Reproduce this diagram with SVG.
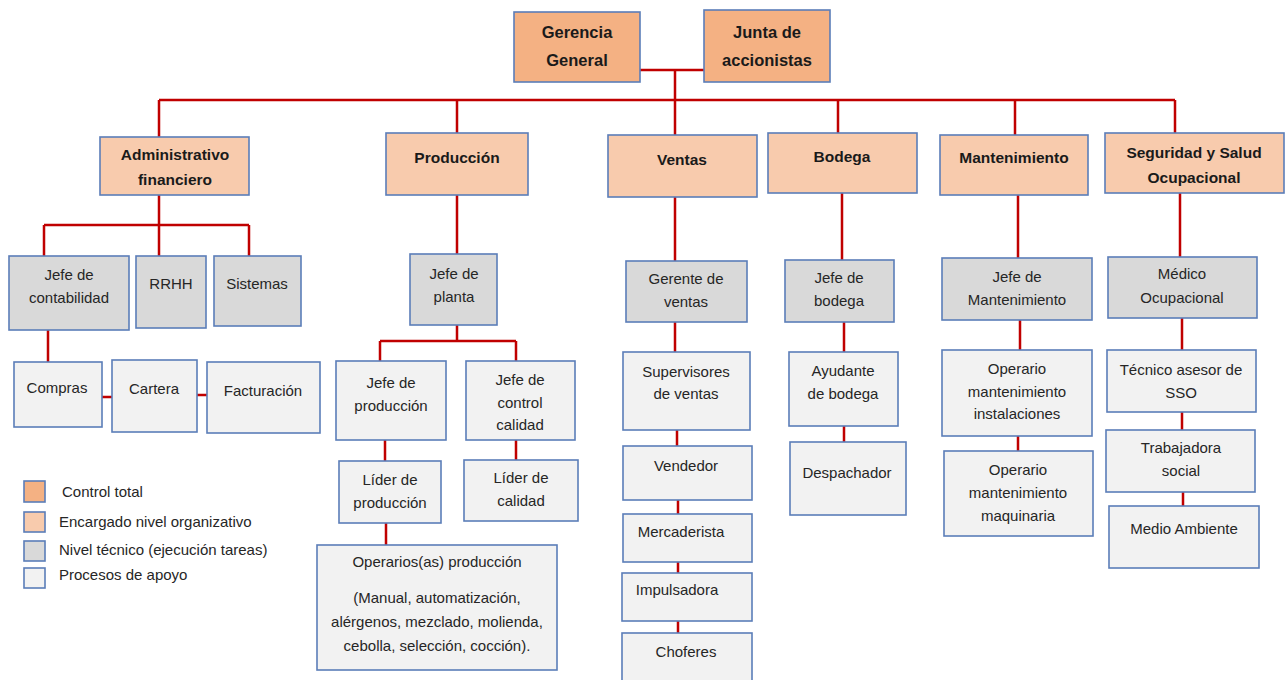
<svg xmlns="http://www.w3.org/2000/svg" width="1287" height="680" viewBox="0 0 1287 680">
<style>
.b{stroke:#5B7DB8;stroke-width:1.6}
.o{fill:#F4B183}
.p{fill:#F8CBAD}
.g{fill:#D9D9D9}
.w{fill:#F2F2F2}
text{font-family:"Liberation Sans",Arial,sans-serif;font-size:15px;fill:#262626;text-anchor:middle}
.t{font-weight:bold;font-size:15.5px;fill:#1a1a1a}
.tt{font-weight:bold;font-size:16.5px;fill:#1a1a1a}
.l{text-anchor:start}
#conn path{stroke:#C00000;stroke-width:2.5;fill:none}
</style>
<rect width="1287" height="680" fill="#fff"/>
<g id="conn">
<path d="M640 70H704M675 70V137M159 100H1175M159 100V137M457 100V133M838 100V133M1015 100V135M1175 100V133"/>
<path d="M159 195V225M44 225H249M44 225V256M159 225V256M249 225V256M48 330V362M102 397H112M197 395H207"/>
<path d="M457 195V254M457 325V341M380 341H516M380 341V361M516 341V361M385 440V461M516 440V460M386 523V545"/>
<path d="M675 197V261M675 322V352M677 430V446M678 500V514M678 562V573M678 621V633"/>
<path d="M842 193V260M844 322V352M844 426V442"/>
<path d="M1018 195V258M1020 320V350M1018 436V451"/>
<path d="M1180 193V257M1182 318V350M1182 412V430M1183 492V506"/>
</g>
<g id="gerencia"><rect class="b o" x="514" y="12" width="126" height="70"/><text class="tt" x="577" y="38">Gerencia</text><text class="tt" x="577" y="66">General</text></g>
<g id="junta"><rect class="b o" x="704" y="10" width="126" height="72"/><text class="tt" x="767" y="38">Junta de</text><text class="tt" x="767" y="66">accionistas</text></g>
<g id="admin"><rect class="b p" x="100" y="137" width="149" height="58"/><text class="t" x="175" y="160">Administrativo</text><text class="t" x="175" y="185">financiero</text></g>
<g id="produccion"><rect class="b p" x="386" y="133" width="142" height="62"/><text class="t" x="457" y="163">Producción</text></g>
<g id="ventas"><rect class="b p" x="608" y="135" width="149" height="62"/><text class="t" x="682" y="165">Ventas</text></g>
<g id="bodega"><rect class="b p" x="768" y="133" width="149" height="60"/><text class="t" x="842" y="162">Bodega</text></g>
<g id="mantenimiento"><rect class="b p" x="940" y="135" width="148" height="60"/><text class="t" x="1014" y="163">Mantenimiento</text></g>
<g id="sso"><rect class="b p" x="1105" y="133" width="179" height="60"/><text class="t" x="1194" y="158">Seguridad y Salud</text><text class="t" x="1194" y="183">Ocupacional</text></g>
<g id="jefe-contabilidad"><rect class="b g" x="9" y="256" width="120" height="74"/><text x="69" y="280">Jefe de</text><text x="69" y="303">contabilidad</text></g>
<g id="rrhh"><rect class="b g" x="136" y="256" width="70" height="72"/><text x="171" y="289">RRHH</text></g>
<g id="sistemas"><rect class="b g" x="214" y="256" width="87" height="70"/><text x="257" y="289">Sistemas</text></g>
<g id="compras"><rect class="b w" x="14" y="362" width="88" height="65"/><text x="57" y="393">Compras</text></g>
<g id="cartera"><rect class="b w" x="112" y="360" width="85" height="72"/><text x="154" y="394">Cartera</text></g>
<g id="facturacion"><rect class="b w" x="207" y="362" width="113" height="71"/><text x="263" y="396">Facturación</text></g>
<g id="jefe-planta"><rect class="b g" x="410" y="254" width="87" height="71"/><text x="454" y="279">Jefe de</text><text x="454" y="302">planta</text></g>
<g id="jefe-produccion"><rect class="b w" x="336" y="361" width="110" height="79"/><text x="391" y="388">Jefe de</text><text x="391" y="411">producción</text></g>
<g id="jefe-calidad"><rect class="b w" x="466" y="361" width="109" height="79"/><text x="520" y="385">Jefe de</text><text x="520" y="408">control</text><text x="520" y="430">calidad</text></g>
<g id="lider-produccion"><rect class="b w" x="339" y="461" width="102" height="62"/><text x="390" y="485">Líder de</text><text x="390" y="508">producción</text></g>
<g id="lider-calidad"><rect class="b w" x="464" y="460" width="114" height="61"/><text x="521" y="483">Líder de</text><text x="521" y="506">calidad</text></g>
<g id="operarios"><rect class="b w" x="317" y="545" width="240" height="125"/><text x="437" y="567">Operarios(as) producción</text><text x="437" y="603">(Manual, automatización,</text><text x="437" y="627">alérgenos, mezclado, molienda,</text><text x="437" y="651">cebolla, selección, cocción).</text></g>
<g id="gerente-ventas"><rect class="b g" x="626" y="261" width="121" height="61"/><text x="686" y="284">Gerente de</text><text x="686" y="307">ventas</text></g>
<g id="supervisores"><rect class="b w" x="623" y="352" width="127" height="78"/><text x="686" y="377">Supervisores</text><text x="686" y="399">de ventas</text></g>
<g id="vendedor"><rect class="b w" x="623" y="446" width="129" height="54"/><text x="686" y="471">Vendedor</text></g>
<g id="mercaderista"><rect class="b w" x="623" y="514" width="129" height="48"/><text x="681" y="537">Mercaderista</text></g>
<g id="impulsadora"><rect class="b w" x="622" y="573" width="130" height="48"/><text x="677" y="595">Impulsadora</text></g>
<g id="choferes"><rect class="b w" x="622" y="633" width="130" height="52"/><text x="686" y="657">Choferes</text></g>
<g id="jefe-bodega"><rect class="b g" x="785" y="260" width="109" height="62"/><text x="839" y="283">Jefe de</text><text x="839" y="306">bodega</text></g>
<g id="ayudante"><rect class="b w" x="789" y="352" width="109" height="74"/><text x="843" y="376">Ayudante</text><text x="843" y="399">de bodega</text></g>
<g id="despachador"><rect class="b w" x="790" y="442" width="116" height="73"/><text x="847" y="478">Despachador</text></g>
<g id="jefe-mant"><rect class="b g" x="942" y="258" width="150" height="62"/><text x="1017" y="282">Jefe de</text><text x="1017" y="305">Mantenimiento</text></g>
<g id="op-instalaciones"><rect class="b w" x="942" y="350" width="150" height="86"/><text x="1017" y="374">Operario</text><text x="1017" y="397">mantenimiento</text><text x="1017" y="419">instalaciones</text></g>
<g id="op-maquinaria"><rect class="b w" x="944" y="451" width="149" height="85"/><text x="1018" y="475">Operario</text><text x="1018" y="498">mantenimiento</text><text x="1018" y="521">maquinaria</text></g>
<g id="medico"><rect class="b g" x="1108" y="257" width="149" height="61"/><text x="1182" y="279">Médico</text><text x="1182" y="303">Ocupacional</text></g>
<g id="tecnico"><rect class="b w" x="1107" y="350" width="149" height="62"/><text x="1181" y="375">Técnico asesor de</text><text x="1181" y="398">SSO</text></g>
<g id="trabajadora"><rect class="b w" x="1106" y="430" width="149" height="62"/><text x="1181" y="453">Trabajadora</text><text x="1181" y="476">social</text></g>
<g id="medio-ambiente"><rect class="b w" x="1109" y="506" width="150" height="62"/><text x="1184" y="534">Medio Ambiente</text></g>
<g id="legend">
<rect class="b o" x="24" y="481" width="21" height="21"/><text class="l" x="62" y="497">Control total</text>
<rect class="b p" x="24" y="512" width="21" height="20"/><text class="l" x="59" y="527">Encargado nivel organizativo</text>
<rect class="b g" x="24" y="541" width="21" height="20"/><text class="l" x="59" y="555">Nivel técnico (ejecución tareas)</text>
<rect class="b w" x="24" y="568" width="21" height="20"/><text class="l" x="59" y="580">Procesos de apoyo</text>
</g>
</svg>
